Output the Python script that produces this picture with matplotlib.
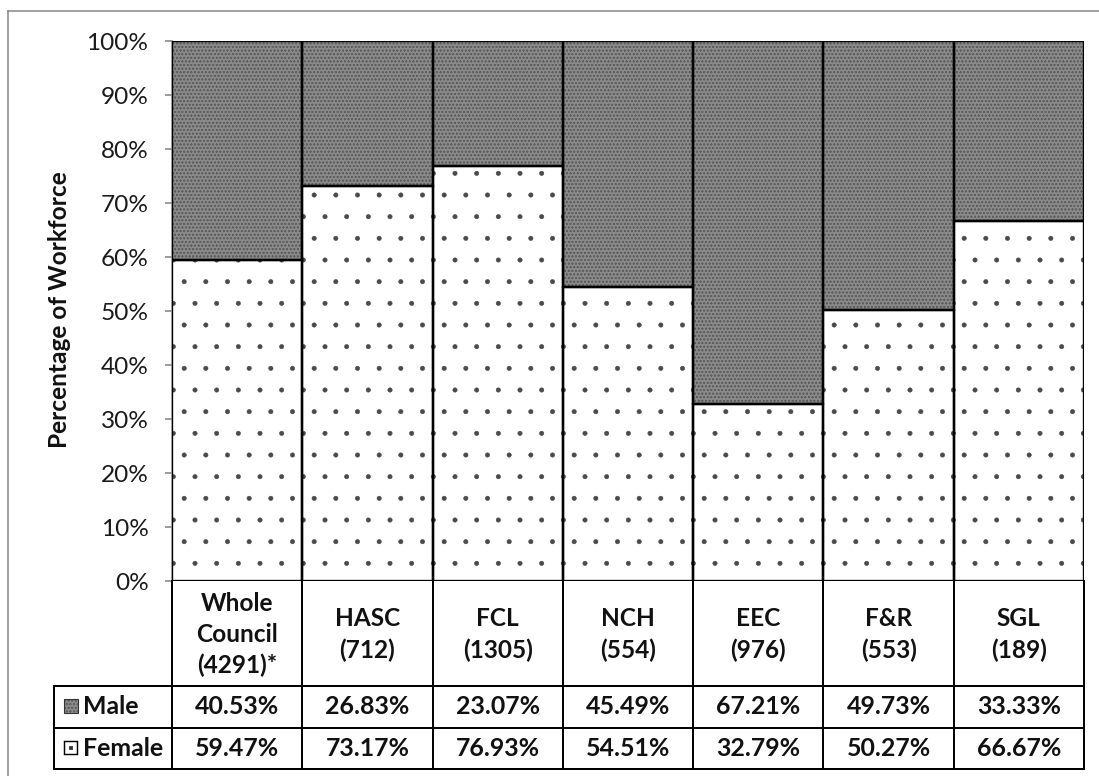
import matplotlib
matplotlib.use("Agg")
import matplotlib.pyplot as plt
import numpy as np
from matplotlib.patches import Rectangle
from matplotlib.lines import Line2D
from matplotlib.transforms import blended_transform_factory

# Workforce split by directorate
categories = ["Whole\nCouncil\n(4291)*", "HASC\n(712)", "FCL\n(1305)", "NCH\n(554)",
              "EEC\n(976)", "F&R\n(553)", "SGL\n(189)"]
male_pct = [40.53, 26.83, 23.07, 45.49, 67.21, 49.73, 33.33]
female_pct = [59.47, 73.17, 76.93, 54.51, 32.79, 50.27, 66.67]
series_names = ["Male", "Female"]
y_ticks = [0, 10, 20, 30, 40, 50, 60, 70, 80, 90, 100]

W, H, DPI = 1099, 776, 130
plt.rcParams["font.family"] = ["Lato", "DejaVu Sans"]
plt.rcParams["hatch.linewidth"] = 0.3

fig = plt.figure(figsize=(W / DPI, H / DPI), dpi=DPI)
fig.patch.set_facecolor("white")

# plot area in pixel units
L, R, T, B = 172, 1084, 41, 581
ax = fig.add_axes([L / W, 1 - B / H, (R - L) / W, (B - T) / H])

x = np.arange(len(categories))
male_face = "#8a8a8a"
male_dot = "#5e5e5e"
female_dot = "#4a4a4a"

# fills with pattern
ax.bar(x, female_pct, width=1.0, color="white", edgecolor=female_dot,
       hatch=".", linewidth=0, zorder=2)
ax.bar(x, male_pct, width=1.0, bottom=female_pct, color=male_face,
       edgecolor=male_dot, hatch="oooooo", linewidth=0, zorder=2)
# black outlines
ax.bar(x, female_pct, width=1.0, fill=False, edgecolor="black", linewidth=1.3, zorder=3)
ax.bar(x, male_pct, width=1.0, bottom=female_pct, fill=False,
       edgecolor="black", linewidth=1.3, zorder=3)

ax.set_xlim(-0.5, len(categories) - 0.5)
ax.set_ylim(0, 100)
ax.set_yticks(y_ticks)
ax.set_yticklabels([f"{v}%" for v in y_ticks], fontsize=13.5, color="#1a1a1a")
ax.tick_params(axis="y", length=4, width=0.9, color="#868686", pad=9)
ax.set_xticks([])
for s in ["top", "right", "bottom"]:
    ax.spines[s].set_visible(False)
ax.spines["left"].set_color("#868686")
ax.spines["left"].set_linewidth(0.9)
ax.set_facecolor("none")

# overlay in pixel coordinates for the data table and frame
ov = fig.add_axes([0, 0, 1, 1], zorder=5)
ov.set_xlim(0, W)
ov.set_ylim(H, 0)
ov.axis("off")
ov.patch.set_alpha(0)

# outer frame
ov.add_line(Line2D([8, 8], [11, H + 5], color="#8c8c8c", lw=0.9))
ov.add_line(Line2D([8, W + 5], [11, 11], color="#8c8c8c", lw=0.9))

# y-axis title
ov.text(60, 310, "Percentage of Workforce", rotation=90, ha="center", va="center",
        fontsize=13.5, fontweight="bold", color="#111111")

r1, r2, r3 = 686, 728, 769
tl = 54
lw = 1.1
for yy in (r1, r2, r3):
    ov.add_line(Line2D([tl, R], [yy, yy], color="black", lw=lw))
ov.add_line(Line2D([tl, tl], [r1, r3], color="black", lw=lw))
col_edges = [L + (R - L) / len(categories) * k for k in range(len(categories) + 1)]
for xe in col_edges:
    ov.add_line(Line2D([xe, xe], [B, r3], color="black", lw=lw))

tr = blended_transform_factory(ax.transData, ov.transData)
for i, lab in enumerate(categories):
    ov.text(i, (B + r1) / 2 + 1, lab, transform=tr, ha="center", va="center",
            fontsize=13.5, fontweight="bold", linespacing=1.42, color="#111111")
    ov.text(i, (r1 + r2) / 2, f"{male_pct[i]:.2f}%", transform=tr, ha="center",
            va="center", fontsize=13.8, fontweight="bold", color="#111111")
    ov.text(i, (r2 + r3) / 2, f"{female_pct[i]:.2f}%", transform=tr, ha="center",
            va="center", fontsize=13.8, fontweight="bold", color="#111111")

# legend keys inside the table
ov.add_patch(Rectangle((64, 699), 14, 14, facecolor=male_face, edgecolor=male_dot,
                       hatch="oooooo", linewidth=0))
ov.add_patch(Rectangle((64, 699), 14, 14, fill=False, edgecolor="#333333", lw=0.6))
ov.add_patch(Rectangle((64, 741), 13, 13, facecolor="white", edgecolor="black", lw=0.8))
ov.plot([70.5], [747.5], marker="s", ms=1.6, color="#333333")
ov.text(83, (r1 + r2) / 2, series_names[0], ha="left", va="center", fontsize=13.8,
        fontweight="bold", color="#111111")
ov.text(83, (r2 + r3) / 2, series_names[1], ha="left", va="center", fontsize=13.8,
        fontweight="bold", color="#111111")

fig.savefig("out.png", dpi=DPI)
